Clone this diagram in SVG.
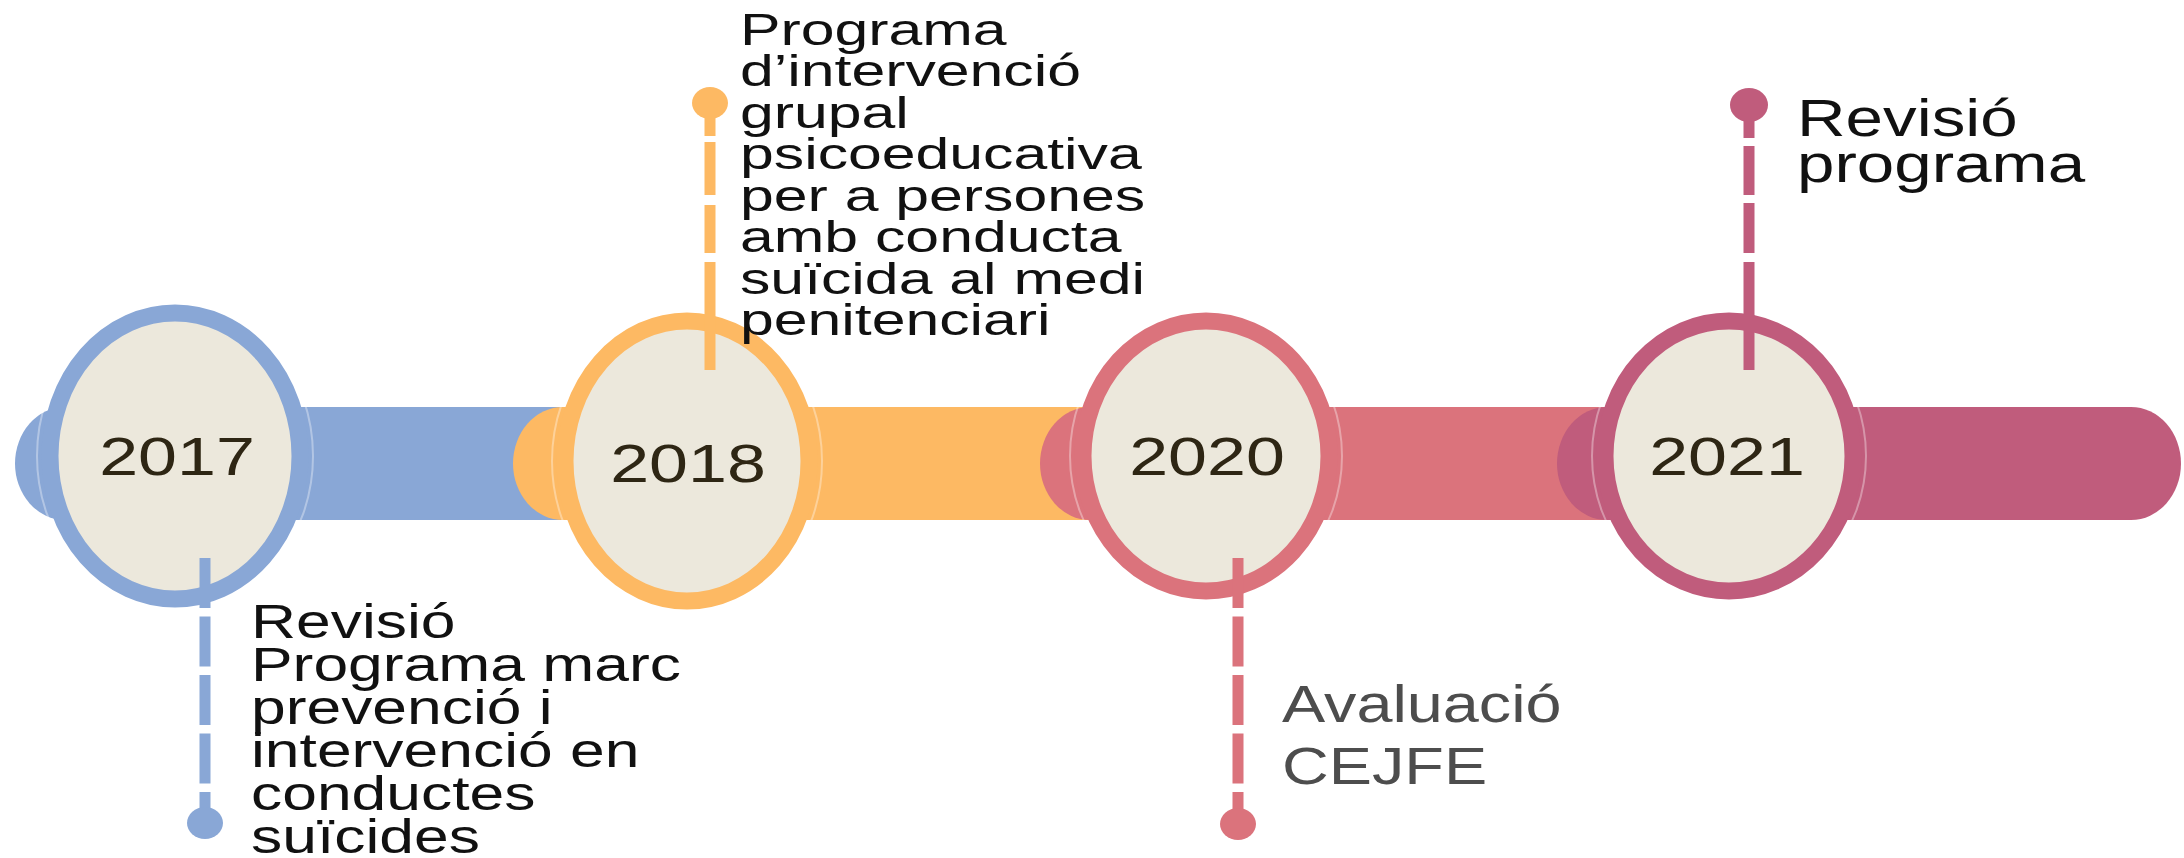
<svg xmlns="http://www.w3.org/2000/svg" width="2184" height="858" viewBox="0 0 2184 858">
<style>
.year{font-family:"Liberation Sans",Arial,sans-serif;font-size:53px;fill:#2e2614;text-anchor:middle}
.lbl{font-family:"Liberation Sans",Arial,sans-serif;fill:#111}
.ring{fill:#ECE8DC;stroke-width:17}
.halo{fill:none;stroke:#ffffff;stroke-opacity:0.35;stroke-width:2}
.conn{fill:none;stroke-width:11}
</style>
<rect width="2184" height="858" fill="#ffffff"/>
<g id="bar">
<rect x="15" y="407" width="700" height="113" rx="50" ry="57" fill="#89A7D6"/>
<rect x="513" y="407" width="700" height="113" rx="50" ry="57" fill="#FDB963"/>
<rect x="1040" y="407" width="700" height="113" rx="50" ry="57" fill="#DB737C"/>
<rect x="1557" y="407" width="624" height="113" rx="50" ry="57" fill="#C05C7C"/>
</g>
<g id="node-2017">
<ellipse class="halo" cx="175" cy="456" rx="138" ry="156"/>
<ellipse class="ring" cx="175" cy="456" rx="125" ry="143" stroke="#89A7D6"/>
<text class="year" transform="translate(177 475) scale(1.32 1)">2017</text>
</g>
<g id="node-2018">
<ellipse class="halo" cx="687" cy="461" rx="135" ry="153"/>
<ellipse class="ring" cx="687" cy="461" rx="122" ry="140" stroke="#FDB963"/>
<text class="year" transform="translate(688 482) scale(1.32 1)">2018</text>
</g>
<g id="node-2020">
<ellipse class="halo" cx="1206" cy="456" rx="136" ry="148"/>
<ellipse class="ring" cx="1206" cy="456" rx="123" ry="135" stroke="#DB737C"/>
<text class="year" transform="translate(1207 475) scale(1.32 1)">2020</text>
</g>
<g id="node-2021">
<ellipse class="halo" cx="1729" cy="456" rx="137" ry="148"/>
<ellipse class="ring" cx="1729" cy="456" rx="124" ry="135" stroke="#C05C7C"/>
<text class="year" transform="translate(1727 475) scale(1.32 1)">2021</text>
</g>
<g id="connectors">
<path class="conn" d="M205 558 V810" stroke="#89A7D6" stroke-dasharray="50 8.5"/>
<ellipse cx="205" cy="823" rx="18" ry="16" fill="#89A7D6"/>
<path class="conn" d="M710 370 V118" stroke="#FDB963" stroke-dasharray="108 9 48 10 53 6 40"/>
<ellipse cx="710" cy="103" rx="18" ry="16" fill="#FDB963"/>
<path class="conn" d="M1238 558 V810" stroke="#DB737C" stroke-dasharray="50 8.5"/>
<ellipse cx="1238" cy="824" rx="18" ry="16" fill="#DB737C"/>
<path class="conn" d="M1749 370 V120" stroke="#C05C7C" stroke-dasharray="108 9 50 8 49 8 40"/>
<ellipse cx="1749" cy="105" rx="19" ry="17" fill="#C05C7C"/>
</g>
<g id="label-2017">
<text class="lbl" font-size="48" transform="translate(251 0) scale(1.3 1)"><tspan x="0" y="638">Revisió</tspan><tspan x="0" y="681">Programa marc</tspan><tspan x="0" y="724">prevenció i</tspan><tspan x="0" y="767">intervenció en</tspan><tspan x="0" y="810">conductes</tspan><tspan x="0" y="853">suïcides</tspan></text>
</g>
<g id="label-2018">
<text class="lbl" font-size="45" transform="translate(740 0) scale(1.35 1)"><tspan x="0" y="45">Programa</tspan><tspan x="0" y="86.5">d’intervenció</tspan><tspan x="0" y="128">grupal</tspan><tspan x="0" y="169.5">psicoeducativa</tspan><tspan x="0" y="211">per a persones</tspan><tspan x="0" y="252.5">amb conducta</tspan><tspan x="0" y="294">suïcida al medi</tspan><tspan x="0" y="335.5">penitenciari</tspan></text>
</g>
<g id="label-2020">
<text class="lbl" font-size="51" fill="#4d4d4d" style="fill:#4d4d4d" transform="translate(1282 0) scale(1.27 1)"><tspan x="0" y="722">Avaluació</tspan><tspan x="0" y="784">CEJFE</tspan></text>
</g>
<g id="label-2021">
<text class="lbl" font-size="51" transform="translate(1797 0) scale(1.32 1)"><tspan x="0" y="136">Revisió</tspan><tspan x="0" y="182">programa</tspan></text>
</g>
</svg>
